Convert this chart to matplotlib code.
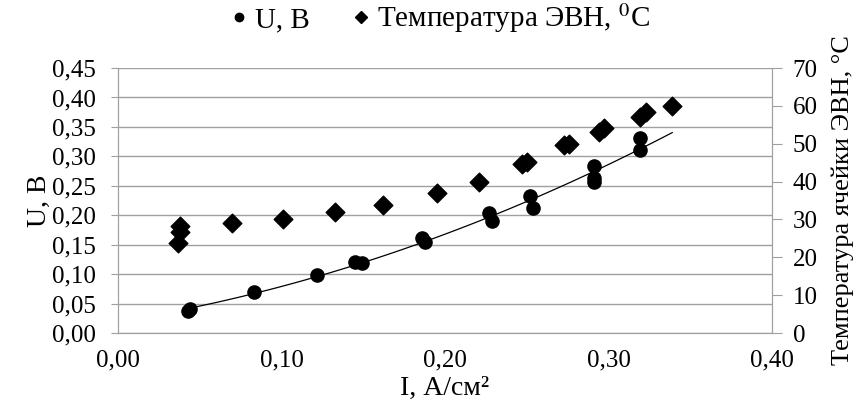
import numpy as np
import matplotlib
matplotlib.use("Agg")
import matplotlib.pyplot as plt
from matplotlib import font_manager
from matplotlib.lines import Line2D

# ищем Times-подобный шрифт
installed = set(f.name for f in font_manager.fontManager.ttflist)
serif = [f for f in ['Liberation Serif', 'Tinos', 'Times New Roman', 'PT Serif',
                     'Noto Serif', 'DejaVu Serif'] if f in installed]
plt.rcParams['font.family'] = serif + ['DejaVu Serif']
plt.rcParams['mathtext.fontset'] = 'stix'

# U, В vs current density
i_u = [0.043, 0.044, 0.083, 0.122, 0.145, 0.149, 0.186, 0.188, 0.227, 0.229,
       0.252, 0.254, 0.291, 0.291, 0.291, 0.319, 0.319]
u = [0.037, 0.041, 0.069, 0.099, 0.121, 0.119, 0.161, 0.154, 0.204, 0.191,
     0.232, 0.212, 0.284, 0.263, 0.257, 0.332, 0.311]

# температура ЭВН
i_t = [0.038, 0.038, 0.037, 0.070, 0.101, 0.133, 0.162, 0.195, 0.221, 0.247,
       0.250, 0.273, 0.276, 0.294, 0.297, 0.319, 0.323, 0.339]
temp = [28.2, 26.8, 23.9, 29.0, 30.0, 32.0, 33.9, 37.1, 39.9, 44.6,
        45.2, 49.7, 49.9, 53.2, 54.2, 57.0, 58.3, 60.0]

x_ticks = [0.0, 0.1, 0.2, 0.3, 0.4]
u_ticks = [0.0, 0.05, 0.10, 0.15, 0.20, 0.25, 0.30, 0.35, 0.40, 0.45]
t_ticks = [0, 10, 20, 30, 40, 50, 60, 70]
trend_range = [0.043, 0.339]

grey = '#a0a0a0'

fig = plt.figure(figsize=(8.68, 4.09), dpi=100)
ax = fig.add_axes([0.1359, 0.1858, 0.7535, 0.6479])
ax2 = ax.twinx()

# полиномиальная линия тренда (2 степень)
coef = np.polyfit(i_u, u, 2)
xs = np.linspace(trend_range[0], trend_range[1], 100)
ax.plot(xs, np.polyval(coef, xs), color='black', lw=0.9, zorder=3)
ax.scatter(i_u, u, s=90, marker='o', color='black', zorder=4)
ax2.scatter(i_t, temp, s=90, marker='D', color='black', zorder=4)

ax.set_xlim(0, 0.4)
ax.set_ylim(0, 0.45)
ax2.set_ylim(0, 70)
ax.set_xticks(x_ticks)
ax.set_yticks(u_ticks)
ax2.set_yticks(t_ticks)
ax.set_xticklabels([f"{v:.2f}".replace('.', ',') for v in x_ticks])
ax.set_yticklabels([f"{v:.2f}".replace('.', ',') for v in u_ticks])
ax2.set_yticklabels([str(v) for v in t_ticks])

ax.grid(axis='y', color=grey, lw=1.0)
ax.set_axisbelow(True)
for a in (ax, ax2):
    for s in a.spines.values():
        s.set_color(grey)
    a.spines['top'].set_visible(False)
ax.tick_params(axis='x', length=0, labelsize=18, pad=12)
ax.tick_params(axis='y', length=5, color=grey, labelsize=18, pad=11)
ax2.tick_params(axis='y', length=7, color=grey, labelsize=18, pad=8)

ax.set_xlabel("I, А/см²", fontsize=20, labelpad=3)
ax.set_ylabel("U, В", fontsize=20, labelpad=0)
ax2.set_ylabel("Температура ячейки ЭВН, °С", fontsize=19, labelpad=10)

handles = [
    Line2D([], [], ls='none', marker='o', color='black', ms=6),
    Line2D([], [], ls='none', marker='D', color='black', ms=6),
]
fig.legend(handles, ["U, В", "Температура ЭВН, $^{\\mathrm{0}}$С"],
           loc='center', bbox_to_anchor=(0.505, 0.955), ncol=2, frameon=False,
           fontsize=21, handletextpad=0.1, columnspacing=1.3, handlelength=0.9)

fig.savefig("out.png", dpi=100)
